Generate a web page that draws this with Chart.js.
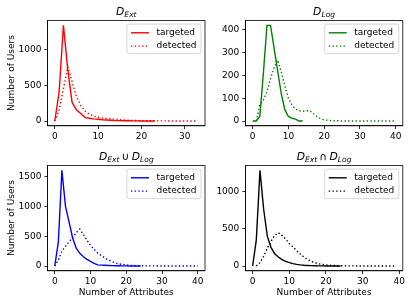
<!DOCTYPE html>
<html>
<head>
<meta charset="utf-8">
<script src="https://cdn.jsdelivr.net/npm/chart.js@4/dist/chart.umd.min.js"></script>
<style>
html,body{margin:0;padding:0;background:#fff;width:415px;height:305px;overflow:hidden}
#wrap{position:relative;width:415px;height:305px;font-family:"DejaVu Sans",sans-serif;color:#000}
canvas{position:absolute;left:0;top:0}
.title{position:absolute;font-size:10.8px;line-height:10.8px;white-space:nowrap;transform:translateX(-50%)}
.title sub{font-size:70%;line-height:0;vertical-align:-1.8px}
.title .op{margin:0 2.2px;font-style:normal}
.xlab{position:absolute;font-size:9px;line-height:9px;white-space:nowrap;transform:translateX(-50%)}
.ylab{position:absolute;font-size:9px;line-height:9px;white-space:nowrap;transform:translate(-50%,-50%) rotate(-90deg)}
</style>
</head>
<body>
<div id="wrap">
<canvas id="c1" width="415" height="305"></canvas>
<canvas id="c2" width="415" height="305"></canvas>
<canvas id="c3" width="415" height="305"></canvas>
<canvas id="c4" width="415" height="305"></canvas>
<div class="title" style="left:126.3px;top:6.6px"><i>D<sub>Ext</sub></i></div>
<div class="title" style="left:324.1px;top:6.6px"><i>D<sub>Log</sub></i></div>
<div class="title" style="left:126.3px;top:151.6px"><i>D<sub>Ext</sub></i><span class="op">∪</span><i>D<sub>Log</sub></i></div>
<div class="title" style="left:324.1px;top:151.6px"><i>D<sub>Ext</sub></i><span class="op">∩</span><i>D<sub>Log</sub></i></div>
<div class="ylab" style="left:10.5px;top:73.2px">Number of Users</div>
<div class="ylab" style="left:10.5px;top:218.2px">Number of Users</div>
<div class="xlab" style="left:126.3px;top:287.9px">Number of Attributes</div>
<div class="xlab" style="left:324.1px;top:287.9px">Number of Attributes</div>
</div>
<script>
// ---- data (number of users per number of attributes) ----
const attributes = [0,1,2,3,4,5,6,7,8,9,10,11,12,13,14,15,16,17,18,19,20,21,22,23,24,25,26,27,28,29,30,31,32,33,34,35,36,37,38,39,40];
const seriesLabels = ['targeted', 'detected'];

const extTargeted = [0,400,1340,720,260,155,105,48,38,30,25,18,14,10,6,5,4,3,2,2,1,1,1,0];
const extDetected = [0,150,450,760,550,340,220,140,95,68,52,42,36,30,24,18,14,11,8,6,5,4,3,3,2,2,1,1,1,1,0,0,0,0];

const logTargeted = [0,0,20,210,420,420,320,220,120,50,20,12,8,0,0];
const logDetected = [null,0,70,92,130,185,235,268,215,155,100,70,52,45,43,45,45,32,20,10,5,3,2,1,1,0,0,0,0,0,0,0,0,0,0,0,0,0,0,0,0];

const unionTargeted = [0,400,1605,1000,740,470,300,213,156,112,78,45,20,15,12,9,7,5,4,3,2,1,1,0,0];
const unionDetected = [0,100,250,330,410,470,560,620,530,430,345,280,220,175,135,100,75,52,35,25,17,12,8,6,5,4,3,2,2,1,1,1,0,0,0,0,0,0,0,0,0];

const interTargeted = [0,350,1280,760,400,250,165,120,85,62,45,32,22,15,10,7,5,3,2,2,1,1,0,0,0];
const interDetected = [null,0,45,130,240,330,410,445,410,360,300,255,205,160,120,88,62,44,30,20,14,10,7,5,4,3,2,2,1,1,1,1,0,0,0,0,0,0,0,0];

const xTicksExt = [0,10,20,30];
const xTicksAll = [0,10,20,30,40];
const yTicksExt = [0,500,1000];
const yTicksLog = [0,100,200,300,400];
const yTicksUnion = [0,500,1000,1500];
const yTicksInter = [0,500,1000];

// ---- drawing ----
const W = 415, H = 305, YW = 40, XH = 20;
const FONT = {family: '"DejaVu Sans", sans-serif', size: 9};

function toPoints(vals) {
  const pts = [];
  vals.forEach((v, i) => { if (v !== null && v !== undefined) pts.push({x: attributes[i], y: v}); });
  return pts;
}

const framePlugin = {
  id: 'frame',
  afterDraw(chart) {
    const ca = chart.chartArea, ctx = chart.ctx;
    ctx.save();
    ctx.strokeStyle = '#000';
    ctx.lineWidth = 0.8;
    ctx.strokeRect(ca.left, ca.top, ca.right - ca.left, ca.bottom - ca.top);
    ctx.restore();
  }
};

function legendPlugin(color) {
  return {
    id: 'innerLegend',
    afterDraw(chart) {
      const ca = chart.chartArea, ctx = chart.ctx;
      ctx.save();
      ctx.font = '9px "DejaVu Sans", sans-serif';
      const tw = Math.max(...seriesLabels.map(s => ctx.measureText(s).width));
      const boxW = 29.5 + tw + 4.5, boxH = 29.5;
      const bx = ca.right - 4 - boxW, by = ca.top + 3.5;
      ctx.beginPath();
      if (ctx.roundRect) ctx.roundRect(bx, by, boxW, boxH, 2); else ctx.rect(bx, by, boxW, boxH);
      ctx.fillStyle = 'rgba(255,255,255,0.8)';
      ctx.fill();
      ctx.strokeStyle = '#cccccc';
      ctx.lineWidth = 0.8;
      ctx.stroke();
      const rows = [by + 8.7, by + 22];
      rows.forEach((y, i) => {
        ctx.beginPath();
        ctx.strokeStyle = color;
        ctx.lineWidth = 1.4;
        ctx.setLineDash(i === 1 ? [1.4, 2.3] : []);
        ctx.moveTo(bx + 4, y);
        ctx.lineTo(bx + 22, y);
        ctx.stroke();
        ctx.setLineDash([]);
        ctx.fillStyle = '#000';
        ctx.textBaseline = 'middle';
        ctx.textAlign = 'left';
        ctx.fillText(seriesLabels[i], bx + 29.5, y);
      });
      ctx.restore();
    }
  };
}

function axisOpts(minV, maxV, tickVals, isX) {
  return {
    type: 'linear',
    min: minV,
    max: maxV,
    afterFit(s) { if (isX) s.height = XH; else s.width = YW; },
    afterBuildTicks(s) { s.ticks = tickVals.map(v => ({value: v})); },
    ticks: {font: FONT, color: '#000', padding: isX ? 2 : 3, maxRotation: 0, autoSkip: false,
            callback: v => String(v)},
    grid: {display: true, drawOnChartArea: false, drawTicks: true, tickLength: 3.2, color: '#000', lineWidth: 0.8},
    border: {display: true, color: '#000', width: 0.8}
  };
}

function makePanel(id, rect, targeted, detected, color, xTicks, yTicks) {
  const tPts = toPoints(targeted), dPts = toPoints(detected);
  const all = tPts.concat(dPts);
  const xs = all.map(p => p.x), ys = all.map(p => p.y);
  const xmin = Math.min(...xs), xmax = Math.max(...xs);
  const ymin = Math.min(...ys), ymax = Math.max(...ys);
  const dx = (xmax - xmin) * 0.05, dy = (ymax - ymin) * 0.05;
  new Chart(document.getElementById(id), {
    type: 'line',
    data: {datasets: [
      {label: seriesLabels[0], data: tPts, borderColor: color, borderWidth: 1.4, pointRadius: 0, fill: false, tension: 0},
      {label: seriesLabels[1], data: dPts, borderColor: color, borderWidth: 1.4, borderDash: [1.4, 2.3], pointRadius: 0, fill: false, tension: 0}
    ]},
    options: {
      responsive: false, animation: false, events: [],
      layout: {padding: {left: rect.l - YW, top: rect.t, right: W - rect.r, bottom: H - rect.b - XH}},
      plugins: {legend: {display: false}, tooltip: {enabled: false}, title: {display: false}},
      scales: {
        x: axisOpts(xmin - dx, xmax + dx, xTicks, true),
        y: axisOpts(ymin - dy, ymax + dy, yTicks, false)
      }
    },
    plugins: [framePlugin, legendPlugin(color)]
  });
}

makePanel('c1', {l: 47.6, t: 20.6, r: 205, b: 125.8}, extTargeted, extDetected, '#ff0000', xTicksExt, yTicksExt);
makePanel('c2', {l: 245.5, t: 20.6, r: 402.8, b: 125.8}, logTargeted, logDetected, '#008000', xTicksAll, yTicksLog);
makePanel('c3', {l: 47.6, t: 165.6, r: 205, b: 270.8}, unionTargeted, unionDetected, '#0000ff', xTicksAll, yTicksUnion);
makePanel('c4', {l: 245.5, t: 165.6, r: 402.8, b: 270.8}, interTargeted, interDetected, '#000000', xTicksAll, yTicksInter);
</script>
</body>
</html>
